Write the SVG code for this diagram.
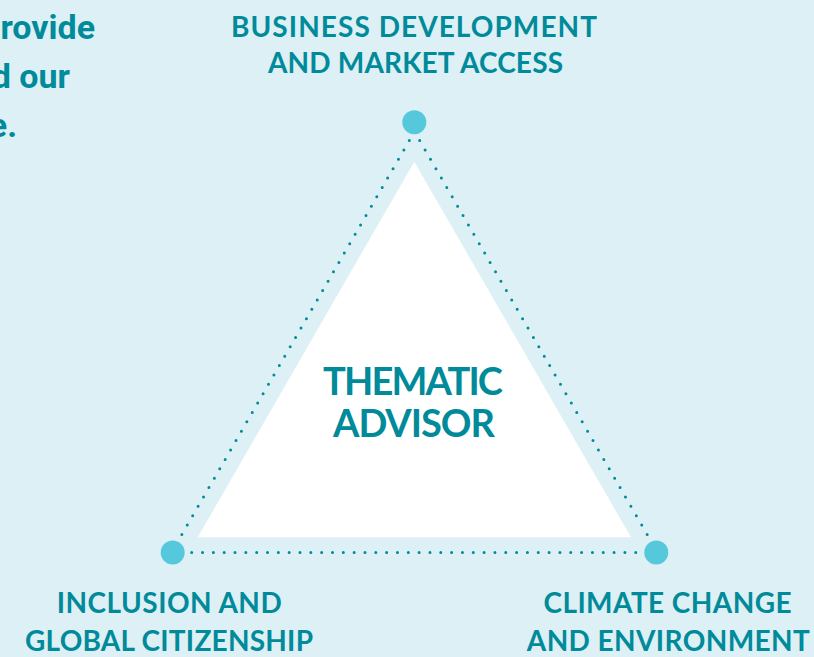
<svg xmlns="http://www.w3.org/2000/svg" width="814" height="657" viewBox="0 0 814 657">
<style>
.lbl{font-family:Lato,"Open Sans","Liberation Sans",sans-serif;font-weight:700;fill:#008a9a;text-anchor:middle}
.para{font-family:Roboto,"Liberation Sans",sans-serif;font-weight:700;fill:#008a9a;font-size:34px;text-anchor:end}
.dot{fill:#55c9db}
.edge{fill:none;stroke:#008a9a;stroke-width:3;stroke-linecap:round;stroke-dasharray:0 10.83}
</style>
<rect width="814" height="657" fill="#dcf0f5"/>
<g id="intro">
<text class="para" x="95" y="39.3">rovide</text>
<text class="para" x="70" y="88.3">d our</text>
<text class="para" x="17" y="137">e.</text>
</g>
<g id="connectors">
<line class="edge" x1="409.3" y1="140.5" x2="181.8" y2="534.5"/>
<line class="edge" x1="419.7" y1="140.5" x2="647.2" y2="534.5"/>
<line class="edge" x1="191.7" y1="552.6" x2="636" y2="552.6"/>
</g>
<g id="center">
<polygon points="414.3,161.7 197.7,537.3 631,537.3" fill="#ffffff"/>
<text class="lbl" font-size="38" x="413" y="395" textLength="180">THEMATIC</text>
<text class="lbl" font-size="38" x="414" y="436.7" textLength="162">ADVISOR</text>
</g>
<g id="business">
<circle class="dot" cx="414.3" cy="122.3" r="12"/>
<text class="lbl" font-size="28" x="414" y="36.7" textLength="366">BUSINESS DEVELOPMENT</text>
<text class="lbl" font-size="28" x="415.5" y="73.3" textLength="295">AND MARKET ACCESS</text>
</g>
<g id="inclusion">
<circle class="dot" cx="172.7" cy="552.6" r="12"/>
<text class="lbl" font-size="28" x="169.2" y="613.3" textLength="225">INCLUSION AND</text>
<text class="lbl" font-size="28" x="169" y="650.5" textLength="288">GLOBAL CITIZENSHIP</text>
</g>
<g id="climate">
<circle class="dot" cx="656.3" cy="552.6" r="12"/>
<text class="lbl" font-size="28" x="667.5" y="613.3" textLength="248">CLIMATE CHANGE</text>
<text class="lbl" font-size="28" x="668.3" y="650.5" textLength="283">AND ENVIRONMENT</text>
</g>
</svg>
